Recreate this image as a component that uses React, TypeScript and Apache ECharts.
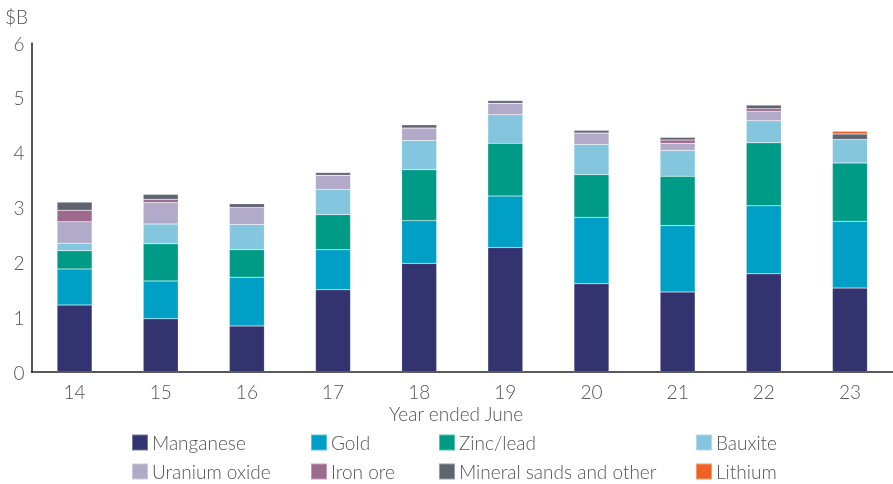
import React, { useEffect, useRef } from "react";
import * as echarts from "echarts";

const years = ["14", "15", "16", "17", "18", "19", "20", "21", "22", "23"];
const manganese = [1.22, 0.97, 0.84, 1.5, 1.98, 2.27, 1.61, 1.46, 1.79, 1.53];
const gold = [0.66, 0.69, 0.89, 0.73, 0.78, 0.94, 1.21, 1.21, 1.24, 1.22];
const zincLead = [0.33, 0.68, 0.5, 0.64, 0.93, 0.96, 0.78, 0.9, 1.15, 1.06];
const bauxite = [0.14, 0.36, 0.46, 0.46, 0.53, 0.52, 0.55, 0.47, 0.4, 0.43];
const uranium = [0.39, 0.39, 0.31, 0.26, 0.23, 0.21, 0.21, 0.13, 0.17, 0];
const ironOre = [0.21, 0.06, 0, 0, 0, 0, 0, 0.06, 0.05, 0];
const mineralSands = [0.15, 0.09, 0.07, 0.05, 0.06, 0.05, 0.05, 0.05, 0.07, 0.1];
const lithium = [0, 0, 0, 0, 0, 0, 0, 0, 0, 0.05];

const seriesDefs = [
  { name: "Manganese", data: manganese, color: "#33336f" },
  { name: "Gold", data: gold, color: "#00a0c6" },
  { name: "Zinc/lead", data: zincLead, color: "#009b87" },
  { name: "Bauxite", data: bauxite, color: "#84c6de" },
  { name: "Uranium oxide", data: uranium, color: "#b1aac8" },
  { name: "Iron ore", data: ironOre, color: "#9d6a8d" },
  { name: "Mineral sands and other", data: mineralSands, color: "#5f6470" },
  { name: "Lithium", data: lithium, color: "#ef6223" },
];

const FONT = "Lato, 'Noto Sans', sans-serif";
const TEXT = "#555555";

export default function App() {
  const ref = useRef<HTMLDivElement>(null);
  useEffect(() => {
    if (!ref.current) return;
    const chart = echarts.init(ref.current, null, { renderer: "svg" });
    const cols = [131, 310, 438, 695];
    const rows = [433, 462];
    const legendPos = seriesDefs.map((s, i) => ({
      name: s.name,
      left: cols[i % 4],
      top: rows[Math.floor(i / 4)],
    }));
    chart.setOption({
      animation: false,
      textStyle: { fontFamily: FONT },
      grid: { left: 31.5, top: 43, width: 874, height: 329, containLabel: false },
      legend: legendPos.map((p) => ({
        data: [p.name],
        left: p.left,
        top: p.top,
        itemWidth: 16,
        itemHeight: 16,
        itemGap: 0,
        icon: "rect",
        padding: 0,
        selectedMode: false,
        textStyle: {
          fontFamily: FONT,
          fontWeight: 300,
          fontSize: 19,
          color: TEXT,
          padding: [0, 0, 0, -1],
        },
      })),
      xAxis: {
        type: "category",
        data: years,
        axisLine: { show: true, lineStyle: { color: "#222", width: 1.5 } },
        axisTick: { show: false },
        axisLabel: { color: TEXT, fontSize: 19, fontWeight: 300, margin: 10, fontFamily: FONT },
        splitLine: { show: false },
      },
      yAxis: {
        type: "value",
        min: 0,
        max: 6,
        interval: 1,
        axisLine: { show: true, lineStyle: { color: "#222", width: 1.5 } },
        axisTick: { show: false },
        splitLine: { show: false },
        axisLabel: { color: TEXT, fontSize: 19, fontWeight: 300, margin: 7, fontFamily: FONT },
      },
      graphic: [
        {
          type: "text",
          left: 5,
          top: 7,
          style: { text: "$B", fontSize: 19, fontWeight: 300, fill: TEXT, fontFamily: FONT },
        },
        {
          type: "text",
          left: 389,
          top: 404,
          style: { text: "Year ended June", fontSize: 19, fontWeight: 300, fill: TEXT, fontFamily: FONT },
        },
      ],
      series: seriesDefs.map((s) => ({
        name: s.name,
        type: "bar",
        stack: "total",
        barWidth: 35,
        data: s.data,
        itemStyle: { color: s.color, borderColor: "rgba(255,255,255,0.35)", borderWidth: 0.5 },
      })),
    });
    return () => chart.dispose();
  }, []);
  return (
    <div
      ref={ref}
      style={{ position: "fixed", left: 0, top: 0, width: 893, height: 484, overflow: "hidden" }}
    />
  );
}
